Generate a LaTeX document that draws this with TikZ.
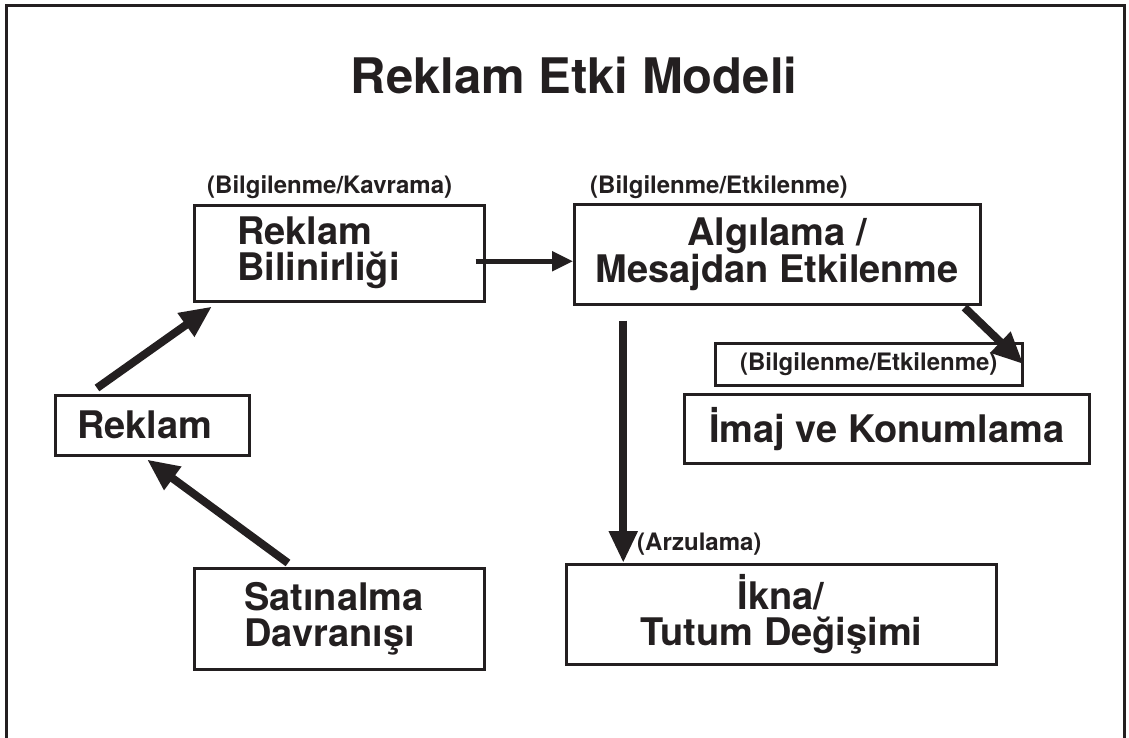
\documentclass[tikz,border=0pt]{standalone}
\usepackage{fontspec}
\setmainfont{TeX Gyre Heros}
\usetikzlibrary{arrows.meta}
\definecolor{koyu}{HTML}{231F20}
\tikzset{
  kutu/.style={draw, line width=2.5pt, inner sep=0pt, anchor=north west,
    font=\fontsize{38}{36}\selectfont\bfseries, align=center},
  etiket/.style={anchor=base west, inner sep=0pt, font=\fontsize{24}{28}\selectfont\bfseries},
  ok/.style={line width=8pt, -{Triangle[length=32pt,width=27pt]}},
  okince/.style={line width=5pt, -{Triangle[length=21pt,width=19pt]}},
}
\begin{document}
\begin{tikzpicture}[x=1pt,y=-1pt,color=koyu]
\useasboundingbox (0,0) rectangle (1129,737);
\draw[line width=3pt] (6,745) -- (6,5) -- (1124,5) -- (1124,745);
\node[anchor=base, inner sep=0pt, font=\fontsize{49}{55}\selectfont\bfseries] (baslik) at (574,93) {Reklam Etki Modeli};
% kutular
\node[kutu, minimum width=290pt, minimum height=96pt, text width=204pt, align=left] (bilinirlik) at (193,204) {Reklam\\Bilinirliği};
\node[kutu, minimum width=406pt, minimum height=100pt] (algilama) at (573,203) {Algılama /\\Mesajdan Etkilenme};
\node[kutu, minimum width=307pt, minimum height=42pt, font=\fontsize{24}{28}\selectfont\bfseries] (etiket3) at (714,342) {(Bilgilenme/Etkilenme)};
\node[kutu, minimum width=405pt, minimum height=69pt] (imaj) at (683,393) {İmaj ve Konumlama};
\node[kutu, minimum width=430pt, minimum height=100pt] (tutum) at (565,563) {İkna/\\Tutum Değişimi};
\node[kutu, minimum width=194pt, minimum height=60pt, text width=150pt, align=left] (reklam) at (54,394) {Reklam};
\node[kutu, minimum width=290pt, minimum height=101pt, text width=190pt, align=left] (satin) at (193,567) {Satınalma\\Davranışı};
% etiketler
\node[etiket] (etiket1) at (207,193) {(Bilgilenme/Kavrama)};
\node[etiket] (etiket2) at (590,193) {(Bilgilenme/Etkilenme)};
\node[etiket] (etiket4) at (637,550) {(Arzulama)};
% oklar
\draw[ok] ([shift={(43pt,6pt)}]reklam.north west) -- ([shift={(19pt,-4pt)}]bilinirlik.south west);
\draw[ok] ([shift={(95pt,4pt)}]satin.north west) -- ([shift={(93pt,-3pt)}]reklam.south west);
\draw[okince] ([xshift=-10pt,yshift=-8pt]bilinirlik.east) -- ([yshift=-7pt]algilama.west);
\draw[ok] ([shift={(-17pt,-2pt)}]algilama.south east) -- (etiket3.east);
\draw[ok] ([shift={(-154pt,-15pt)}]algilama.south) -- ([xshift=-158pt]tutum.north);
\end{tikzpicture}
\end{document}
